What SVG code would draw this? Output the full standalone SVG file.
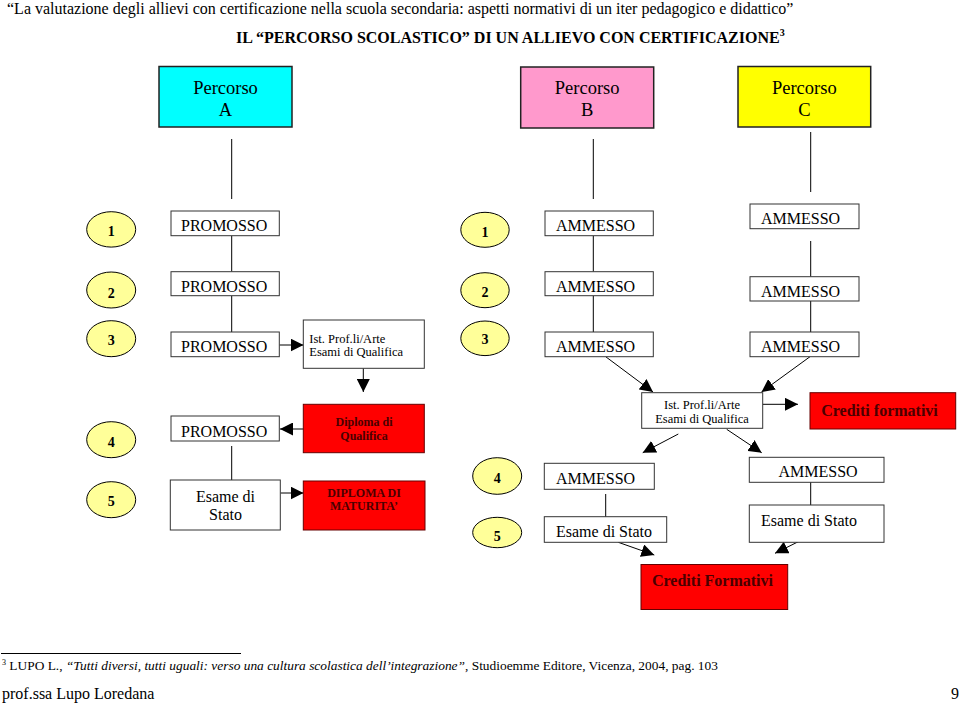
<svg xmlns="http://www.w3.org/2000/svg" width="960" height="703" viewBox="0 0 960 703">
<style>
text{font-family:"Liberation Serif","Times New Roman",serif;fill:#000}
.t16{font-size:16px}
.hd{font-size:16px;font-weight:bold}
.pc{font-size:18.5px;text-anchor:middle}
.box{fill:#fff;stroke:#333;stroke-width:1}
.pbox{stroke:#222;stroke-width:1.5}
.ell{fill:#FFFF99;stroke:#000;stroke-width:1}
.num{font-size:14px;font-weight:bold;text-anchor:middle}
.red{fill:#FF0000;stroke:#600;stroke-width:1}
.rt{font-weight:bold;fill:#4a0000;text-anchor:middle}
.ist{font-size:12.5px}
.ln{stroke:#000;stroke-width:1;fill:none}
.arr{marker-end:url(#ah)}
.mid{text-anchor:middle}
</style>
<defs>
<marker id="ah" viewBox="0 0 10 10" refX="10" refY="5" markerUnits="userSpaceOnUse" markerWidth="13" markerHeight="13" orient="auto">
<path d="M0,0 L10,5 L0,10 z" fill="#000"/>
</marker>
<clipPath id="c5"><rect x="480" y="531" width="34" height="12"/></clipPath>
<clipPath id="cEB"><rect x="545" y="517" width="121" height="25"/></clipPath>
</defs>

<g id="header">
<text class="t16" x="7" y="14">“La valutazione degli allievi con certificazione nella scuola secondaria: aspetti normativi di un iter pedagogico e didattico”</text>
<text class="hd" x="236" y="43">IL “PERCORSO SCOLASTICO” DI UN ALLIEVO CON CERTIFICAZIONE<tspan font-size="10" dy="-7">3</tspan></text>
</g>

<g id="connectors">
<line class="ln" x1="231.7" y1="139" x2="231.7" y2="199"/>
<line class="ln" x1="231.7" y1="235.7" x2="231.7" y2="271.7"/>
<line class="ln" x1="231.7" y1="295.7" x2="231.7" y2="332"/>
<line class="ln" x1="593.3" y1="139" x2="593.3" y2="199"/>
<line class="ln" x1="593.3" y1="235.7" x2="593.3" y2="271.7"/>
<line class="ln" x1="593.3" y1="295.7" x2="593.3" y2="332"/>
<line class="ln" x1="810.7" y1="132" x2="810.7" y2="192"/>
<line class="ln" x1="810.7" y1="241" x2="810.7" y2="276.7"/>
<line class="ln" x1="810.7" y1="301" x2="810.7" y2="332"/>
<line class="ln" x1="231.7" y1="446" x2="231.7" y2="480"/>
<line class="ln" x1="605.7" y1="494" x2="605.7" y2="517"/>
<line class="ln" x1="810.7" y1="482" x2="810.7" y2="505"/>
<line class="ln arr" x1="279.5" y1="345" x2="303.5" y2="345"/>
<line class="ln arr" x1="363.3" y1="368.3" x2="363.3" y2="392"/>
<line class="ln arr" x1="303.5" y1="429" x2="280" y2="429"/>
<line class="ln arr" x1="280.5" y1="493" x2="303.5" y2="493"/>
<line class="ln arr" x1="605.7" y1="356.7" x2="653" y2="392"/>
<line class="ln arr" x1="810" y1="356.7" x2="761.5" y2="392"/>
<line class="ln arr" x1="762.7" y1="404.3" x2="798" y2="404.3"/>
<line class="ln arr" x1="678.3" y1="434" x2="642.7" y2="452.7"/>
<line class="ln arr" x1="726.7" y1="429.3" x2="761.7" y2="452.7"/>
<line class="ln arr" x1="618.3" y1="542.3" x2="654.3" y2="555"/>
<line class="ln arr" x1="798.3" y1="541.7" x2="775" y2="553.3"/>
</g>

<g id="percorsoA"><rect class="pbox" x="159" y="66.5" width="133" height="60.5" fill="#00FFFF"/><text class="pc" x="225.5" y="93.5">Percorso</text><text class="pc" x="225.5" y="115.5">A</text></g>
<g id="percorsoB"><rect class="pbox" x="520.7" y="67" width="133" height="61" fill="#FF99CC"/><text class="pc" x="587.2" y="94">Percorso</text><text class="pc" x="587.2" y="116">B</text></g>
<g id="percorsoC"><rect class="pbox" x="738" y="66.5" width="132.7" height="60.5" fill="#FFFF00"/><text class="pc" x="804.3" y="93.5">Percorso</text><text class="pc" x="804.3" y="115.5">C</text></g>

<g id="nA1"><ellipse class="ell" cx="111.2" cy="229.4" rx="24.5" ry="17.7"/><text class="num" x="111.2" y="236">1</text></g>
<g id="nA2"><ellipse class="ell" cx="111.2" cy="290" rx="24.5" ry="18"/><text class="num" x="111.2" y="298">2</text></g>
<g id="nA3"><ellipse class="ell" cx="111.2" cy="338.7" rx="24.5" ry="18"/><text class="num" x="111.2" y="345">3</text></g>
<g id="nA4"><ellipse class="ell" cx="111.2" cy="439.7" rx="24.5" ry="18"/><text class="num" x="111.2" y="446.5">4</text></g>
<g id="nA5"><ellipse class="ell" cx="111.2" cy="499.7" rx="24.5" ry="18"/><text class="num" x="111.2" y="506">5</text></g>

<g id="promosso1"><rect class="box" x="171" y="211" width="108.3" height="24.7"/><text class="t16" x="181" y="231">PROMOSSO</text></g>
<g id="promosso2"><rect class="box" x="171" y="271.7" width="108.3" height="24"/><text class="t16" x="181" y="291.5">PROMOSSO</text></g>
<g id="promosso3"><rect class="box" x="171" y="332" width="108.3" height="24.7"/><text class="t16" x="181" y="352">PROMOSSO</text></g>
<g id="istA"><rect class="box" x="303.3" y="320" width="121" height="48.3"/><text class="ist" x="309.3" y="343">Ist. Prof.li/Arte</text><text class="ist" x="309.3" y="355.5">Esami di Qualifica</text></g>
<g id="diplomaQ"><rect class="red" x="303.3" y="404.3" width="121" height="48.4"/><text class="rt" font-size="12" x="364" y="426">Diploma di</text><text class="rt" font-size="12" x="364" y="440">Qualifica</text></g>
<g id="promosso4"><rect class="box" x="171" y="416" width="108.3" height="25"/><text class="t16" x="181" y="436.5">PROMOSSO</text></g>
<g id="esameA"><rect class="box" x="170.3" y="480" width="110" height="50"/><text class="t16 mid" x="225.5" y="501.7">Esame di</text><text class="t16 mid" x="225.5" y="519.5">Stato</text></g>
<g id="maturita"><rect class="red" x="303.3" y="481" width="121.7" height="49"/><text class="rt" font-size="12" x="364" y="496.5">DIPLOMA DI</text><text class="rt" font-size="12" x="364" y="510">MATURITA’</text></g>

<g id="nB1"><ellipse class="ell" cx="485" cy="229.8" rx="24.2" ry="17.5"/><text class="num" x="485" y="236.7">1</text></g>
<g id="nB2"><ellipse class="ell" cx="485" cy="290.2" rx="24.2" ry="17.5"/><text class="num" x="485" y="296.7">2</text></g>
<g id="nB3"><ellipse class="ell" cx="485" cy="338.3" rx="24.2" ry="17.3"/><text class="num" x="485" y="344.3">3</text></g>
<g id="nB4"><ellipse class="ell" cx="497.2" cy="476" rx="24.5" ry="18.3"/><text class="num" x="497.2" y="482.7">4</text></g>
<g id="nB5"><ellipse class="ell" cx="497.2" cy="532.5" rx="24.5" ry="15.2"/><text class="num" x="497.2" y="541" clip-path="url(#c5)">5</text></g>

<g id="ammB1"><rect class="box" x="545" y="211" width="108.3" height="24.7"/><text class="t16" x="556" y="231">AMMESSO</text></g>
<g id="ammB2"><rect class="box" x="545" y="271.7" width="108.3" height="24"/><text class="t16" x="556" y="291.7">AMMESSO</text></g>
<g id="ammB3"><rect class="box" x="545" y="332" width="108.3" height="24.7"/><text class="t16" x="556" y="352">AMMESSO</text></g>
<g id="ammC1"><rect class="box" x="750" y="204" width="109" height="24.7"/><text class="t16" x="761" y="224">AMMESSO</text></g>
<g id="ammC2"><rect class="box" x="750" y="276.7" width="109" height="24.3"/><text class="t16" x="761" y="296.7">AMMESSO</text></g>
<g id="ammC3"><rect class="box" x="750" y="332" width="109" height="24.7"/><text class="t16" x="761" y="352">AMMESSO</text></g>

<g id="istB"><rect class="box" x="641.7" y="392.7" width="121" height="35.6"/><text class="ist mid" font-size="12" x="702" y="408.5">Ist. Prof.li/Arte</text><text class="ist mid" font-size="12" x="702" y="422.7">Esami di Qualifica</text></g>
<g id="creditiF1"><rect class="red" x="810" y="392.7" width="145.7" height="36.3"/><text class="rt" font-size="16" x="879.5" y="415.7">Crediti formativi</text></g>

<g id="ammB4"><rect class="box" x="544.3" y="463.3" width="110" height="26"/><text class="t16" x="556" y="484">AMMESSO</text></g>
<g id="esameB"><rect class="box" x="544.3" y="516.7" width="122.4" height="25.6"/><text class="t16" x="556" y="537" clip-path="url(#cEB)">Esame di Stato</text></g>
<g id="ammC4"><rect class="box" x="749.3" y="457.3" width="134.7" height="25"/><text class="t16" x="778.5" y="477">AMMESSO</text></g>
<g id="esameC"><rect class="box" x="749.3" y="505" width="134.7" height="37.3"/><text class="t16" x="761" y="525.7">Esame di Stato</text></g>

<g id="creditiF2"><rect class="red" x="641" y="564.5" width="146.7" height="45"/><text class="rt" font-size="16" x="712.5" y="585.7">Crediti Formativi</text></g>

<g id="footer">
<line x1="1" y1="653.5" x2="241" y2="653.5" stroke="#000" stroke-width="1"/>
<text font-size="13.4" x="2" y="670"><tspan font-size="8" dy="-5">3</tspan><tspan dy="5"> LUPO L., </tspan><tspan font-style="italic">“Tutti diversi, tutti uguali: verso una cultura scolastica dell’integrazione”</tspan>, Studioemme Editore, Vicenza, 2004, pag. 103</text>
<text class="t16" x="2" y="699">prof.ssa Lupo Loredana</text>
<text class="t16" x="951" y="699">9</text>
</g>
</svg>
